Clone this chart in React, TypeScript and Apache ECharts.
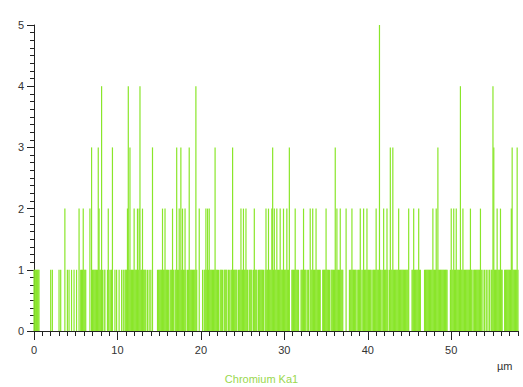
import React, { useEffect, useRef } from 'react';
import * as echarts from 'echarts';

// Counts along the line scan, one string per micron, one digit per 0.1 µm step.
const countsPerMicron: string[] = [
  '1111111000', '0000000000', '1010000000', '1010000200', '1010010010',
  '0100201112', '1110000203', '1111111321', '1410110012', '1011300101',
  '0010010101', '1124131111', '2111212411', '2111101010', '1030000011',
  '1111211211', '1101112101', '1311213121', '1210113111', '1111410020',
  '0010112121', '2111111311', '1101111011', '1101101131', '1111011121',
  '1211211011', '1101211101', '1111110121', '1211123121', '1211121112',
  '1112113001', '1112111100', '1112111011', '0211211121', '1111001111',
  '2111101111', '1312111211', '1000200011', '1211111011', '1210121112',
  '1111101111', '2111511012', '1112101311', '3111111211', '1111111112',
  '0001121111', '1211000011', '1111111121', '1121311111', '1111110001',
  '2112112111', '1411211111', '1112110111', '1111121010', '1010101011',
  '4311121112', '1100111111', '1123111113', '1',
];
const stepMicron = 0.1;
const xMajorTicks = [0, 10, 20, 30, 40, 50];
const xMax = 58;
const yMax = 5;
const seriesName = 'Chromium Ka1';
const unitLabel = 'µm';

const counts = countsPerMicron.join('').split('').map(Number);
const points: [number, number][] = [];
counts.forEach((v, i) => {
  if (v > 0) points.push([Math.round(i * stepMicron * 10) / 10, v]);
});

export default function App() {
  const ref = useRef<HTMLDivElement>(null);
  useEffect(() => {
    const chart = echarts.init(ref.current!, null, { renderer: 'svg' });
    const axisColor = '#222';
    const font = 'Liberation Sans, Arial, sans-serif';
    chart.setOption({
      animation: false,
      backgroundColor: '#ffffff',
      grid: { left: 34, right: 5, top: 25, bottom: 56 },
      xAxis: [
        {
          type: 'value', min: 0, max: xMax, interval: 10, position: 'bottom',
          axisLine: { show: true, lineStyle: { color: axisColor, width: 1 } },
          axisTick: { show: true, length: 9, customValues: xMajorTicks, lineStyle: { color: axisColor } },
          axisLabel: { customValues: xMajorTicks, margin: 13, fontSize: 11, color: '#333', fontFamily: font },
          splitLine: { show: false },
        },
        {
          type: 'value', min: 0, max: xMax, interval: 1, position: 'bottom',
          axisLine: { show: false },
          axisTick: { show: true, length: 5, lineStyle: { color: axisColor } },
          axisLabel: { show: false },
          splitLine: { show: false },
        },
      ],
      yAxis: {
        type: 'value', min: 0, max: yMax, interval: 1,
        axisLine: { show: true, lineStyle: { color: axisColor, width: 1 } },
        axisTick: { show: true, length: 7, lineStyle: { color: axisColor } },
        minorTick: { show: true, splitNumber: 8, length: 4, lineStyle: { color: axisColor } },
        axisLabel: { margin: 10, fontSize: 11, color: '#333', fontFamily: font },
        splitLine: { show: false },
        minorSplitLine: { show: false },
      },
      series: [
        {
          name: seriesName,
          type: 'bar',
          xAxisIndex: 0,
          data: points,
          barWidth: 1.2,
          silent: true,
          itemStyle: { color: '#8ae62a' },
        },
      ],
      graphic: [
        {
          type: 'text', left: 497, top: 360,
          style: { text: unitLabel, fontSize: 11, fill: '#333', fontFamily: font },
        },
        {
          type: 'text', left: 'center', top: 373,
          style: { text: seriesName, fontSize: 11, fill: '#9ad84e', fontFamily: font },
        },
      ],
    });
    return () => chart.dispose();
  }, []);
  return (
    <div
      ref={ref}
      style={{ position: 'fixed', left: 0, top: 0, width: 523, height: 387, background: '#fff' }}
    />
  );
}
